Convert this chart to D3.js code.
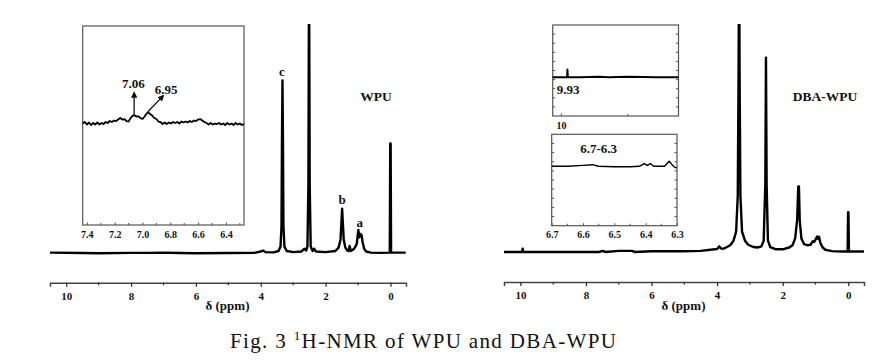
<!DOCTYPE html>
<html>
<head>
<meta charset="utf-8">
<script src="https://cdn.jsdelivr.net/npm/d3@7"></script>
<style>
  body { margin: 0; background: #fff; }
  svg text { font-family: "Liberation Serif", "Times New Roman", serif; fill: #111; }
  .bold { font-weight: bold; }
</style>
</head>
<body>
<div id="chart"></div>
<script>
// spectra: [shift (ppm), intensity]
var wpuSpectrum = [[10.5,0.3],[9.5,0.1],[9,0],[8,0.2],[7.5,0.2],[7,0.3],[6.5,0.1],[6,0],[5,0.1],[4.2,0.2],[4.0,0.8],[3.93,1.2],[3.85,0.5],[3.6,0.4],[3.45,1],[3.39,3],[3.36,12],[3.345,50],[3.33,76],[3.315,50],[3.30,12],[3.27,3],[3.2,1],[3.0,0.5],[2.75,0.8],[2.65,2],[2.6,1.2],[2.56,3],[2.53,30],[2.51,130],[2.49,30],[2.46,3],[2.40,1],[2.35,2],[2.3,0.8],[2.0,0.5],[1.7,1],[1.6,2.5],[1.54,6],[1.51,14],[1.49,19.6],[1.47,14],[1.44,6],[1.39,2.5],[1.33,1.2],[1.29,1],[1.26,3.2],[1.22,1],[1.12,2],[1.04,4],[0.99,10.3],[0.96,7],[0.93,8.5],[0.89,8],[0.86,5],[0.81,2],[0.75,0.8],[0.6,0.3],[0.3,0.2],[0.02,0.3],[0.006,48.3],[-0.006,48.3],[-0.02,0.3],[-0.47,0.3]];
var dbaSpectrum = [[10.5,0],[10.0,0],[9.95,0],[9.93,1.5],[9.91,0],[9,0],[7.6,0],[7.5,0.5],[7.4,0],[7,0.5],[6.6,0.5],[6.5,0],[6.0,0.3],[5,0.3],[4.5,0.5],[4.2,1],[4.0,1.3],[3.93,2.5],[3.88,1.5],[3.8,1.5],[3.7,2.2],[3.6,3],[3.5,5],[3.42,9],[3.37,25],[3.345,80],[3.33,140],[3.315,80],[3.29,25],[3.24,9],[3.15,5],[3.05,3.2],[2.9,2.2],[2.75,2],[2.65,2.5],[2.58,5],[2.53,30],[2.51,86],[2.49,30],[2.45,5],[2.38,2.2],[2.2,1.2],[2.0,1.2],[1.8,2],[1.7,3],[1.62,6],[1.56,14],[1.525,29],[1.505,29],[1.48,14],[1.43,6],[1.35,3.5],[1.25,3],[1.15,3.2],[1.08,4.8],[1.04,4.5],[1.0,5.5],[0.95,6.8],[0.92,5.8],[0.89,6.7],[0.85,4],[0.78,2],[0.7,1],[0.5,0.4],[0.2,0.2],[0.02,0.2],[0.006,17.6],[-0.006,17.6],[-0.02,0.2],[-0.48,0.2]];
var wpuInset = [[7.43,0],[7.415,0.15],[7.40,-0.1],[7.385,0.1],[7.37,-0.15],[7.355,0.05],[7.34,-0.1],[7.325,0.1],[7.31,-0.1],[7.295,0.05],[7.28,-0.05],[7.265,0.15],[7.25,0.05],[7.235,0.25],[7.22,0.15],[7.205,0.3],[7.19,0.25],[7.175,0.4],[7.16,0.55],[7.145,0.4],[7.13,0.45],[7.115,0.25],[7.10,0.2],[7.085,0.55],[7.07,0.8],[7.06,0.85],[7.045,0.7],[7.03,0.75],[7.015,0.55],[7.00,0.45],[6.985,0.7],[6.97,1.0],[6.96,1.15],[6.945,0.95],[6.93,0.8],[6.915,0.55],[6.90,0.45],[6.885,0.2],[6.87,0.15],[6.855,-0.05],[6.84,0.1],[6.825,-0.05],[6.81,0.1],[6.795,0],[6.78,0.15],[6.765,0.05],[6.75,0.15],[6.735,0],[6.72,0.2],[6.705,0.1],[6.69,0.2],[6.675,0.1],[6.66,0.25],[6.645,0.15],[6.63,0.3],[6.615,0.25],[6.60,0.4],[6.585,0.45],[6.57,0.3],[6.555,0.15],[6.54,0.05],[6.525,-0.1],[6.51,0.05],[6.495,-0.1],[6.48,0],[6.465,-0.05],[6.45,0.05],[6.435,-0.1],[6.42,0],[6.405,-0.15],[6.39,0.05],[6.375,-0.1],[6.36,0],[6.345,-0.15],[6.33,0.05],[6.315,-0.1],[6.30,0],[6.285,-0.15],[6.27,-0.05]];
var dbaInsetTop = [[10.086,0],[9.95,0],[9.935,0],[9.932,1.7],[9.928,0],[9.8,0],[9.6,0.1],[9.5,0],[9.3,0.1],[9.0,0],[8.77,0]];
var dbaInsetBottom = [[6.7,0],[6.65,0],[6.6,0.2],[6.57,0.35],[6.55,0],[6.5,-0.1],[6.45,-0.1],[6.42,0],[6.405,0.6],[6.395,0.2],[6.385,0.6],[6.375,0],[6.34,0],[6.325,1.1],[6.315,0.3],[6.305,-0.3],[6.3,-0.3]];

// labels
var wpuPeakLabels = [{t:"c", x:3.35, y:78}, {t:"b", x:1.49, y:21.8}, {t:"a", x:0.95, y:11.5}];
var wpuArrows = [{x1:7.06, y1:0.9, x2:7.06, y2:3.1}, {x1:6.96, y1:1.2, x2:6.85, y2:2.8}];
var wpuArrowLabels = [{t:"7.06", x:7.065, y:3.55}, {t:"6.95", x:6.83, y:2.95}];
var mainTicks = [10, 8, 6, 4, 2, 0];
var mainMinor = [9, 7, 5, 3, 1];
var wpuInsetTicks = [7.4, 7.2, 7.0, 6.8, 6.6, 6.4];
var dbaTopTicks = [10];
var dbaBottomTicks = [6.7, 6.6, 6.5, 6.4, 6.3];

var svg = d3.select("#chart").append("svg")
  .attr("width", 892)
  .attr("height", 362);

var defs = svg.append("defs");
defs.append("marker").attr("id", "arrow")
  .attr("viewBox", "0 0 10 10").attr("refX", 8).attr("refY", 5)
  .attr("markerWidth", 5).attr("markerHeight", 5).attr("orient", "auto")
  .append("path").attr("d", "M0,0 L10,5 L0,10 z").attr("fill", "#111");

var line = function(x, y) {
  return d3.line().x(d => x(d[0])).y(d => y(d[1]));
};

// draws one main spectrum panel
function panel(opts) {
  var x = d3.scaleLinear().domain([10.5, -0.48]).range([opts.left, opts.right]);
  var y = d3.scaleLinear().domain([0, 100]).range([opts.base, 26]);

  defs.append("clipPath").attr("id", opts.id)
    .append("rect").attr("x", opts.left - 2).attr("y", 24)
    .attr("width", opts.right - opts.left + 4).attr("height", 260);

  svg.append("path")
    .datum(opts.data)
    .attr("clip-path", `url(#${opts.id})`)
    .attr("d", line(x, y))
    .attr("fill", "none")
    .attr("stroke", "#000")
    .attr("stroke-width", 2.4)
    .attr("stroke-linejoin", "round");

  var axis = svg.append("g")
    .attr("transform", `translate(0, ${opts.axisY})`)
    .call(d3.axisBottom(x).tickValues(mainTicks).tickSize(4).tickFormat(d3.format("d")));
  axis.select(".domain").attr("stroke", "#444").attr("stroke-width", 1.5);
  axis.selectAll(".tick line").attr("stroke", "#222").attr("stroke-width", 1.2);
  axis.selectAll(".tick text").attr("class", "bold").attr("font-size", 11)
    .attr("font-family", "Liberation Serif").attr("dy", "0.95em").attr("fill", "#111");
  axis.selectAll(".minor").data(mainMinor).enter().append("line")
    .attr("x1", d => x(d)).attr("x2", d => x(d))
    .attr("y1", 0).attr("y2", 2.5)
    .attr("stroke", "#222").attr("stroke-width", 1.2);

  svg.append("text").attr("class", "bold")
    .attr("x", (x(10.5) + x(-0.48)) / 2 - 0.5).attr("y", 310)
    .attr("text-anchor", "middle").attr("font-size", 13)
    .text("δ (ppm)");

  svg.append("text").attr("class", "bold")
    .attr("x", opts.nameX).attr("y", 101)
    .attr("text-anchor", "middle").attr("font-size", 13.5)
    .text(opts.name);

  return {x: x, y: y};
}

// draws one inset box with its own scales
function inset(opts) {
  var x = d3.scaleLinear().domain(opts.xDomain).range([opts.x0, opts.x1]);
  var y = d3.scaleLinear().domain(opts.yDomain).range([opts.y1, opts.y0]);

  svg.append("rect")
    .attr("x", opts.x0).attr("y", opts.y0)
    .attr("width", opts.x1 - opts.x0).attr("height", opts.y1 - opts.y0)
    .attr("fill", "#fff").attr("stroke", "#555").attr("stroke-width", 1.2);

  if (opts.sideTicks) {
    var ys = d3.scaleLinear().domain([0, 1]).range([opts.y1, opts.y0]);
    var ticks = d3.range(1, opts.sideTicks).map(i => i / opts.sideTicks);
    [opts.x0, opts.x1].forEach(function(sx, k) {
      svg.selectAll(null).data(ticks).enter().append("line")
        .attr("x1", sx).attr("x2", k === 0 ? sx + 2.5 : sx - 2.5)
        .attr("y1", d => ys(d)).attr("y2", d => ys(d))
        .attr("stroke", "#555").attr("stroke-width", 1);
    });
  }

  var ax = svg.append("g")
    .attr("transform", `translate(0, ${opts.y1})`)
    .call(d3.axisBottom(x).tickValues(opts.ticks).tickSize(-2.5).tickFormat(opts.fmt));
  ax.select(".domain").remove();
  ax.selectAll(".tick line").attr("stroke", "#555");
  ax.selectAll(".tick text").attr("class", "bold").attr("font-size", 10)
    .attr("font-family", "Liberation Serif").attr("dy", "0.75em")
    .attr("transform", "translate(0, 2)").attr("fill", "#111");
  if (opts.minor) {
    ax.selectAll(".mn").data(opts.minor).enter().append("line")
      .attr("x1", d => x(d)).attr("x2", d => x(d))
      .attr("y1", 0).attr("y2", -2).attr("stroke", "#555");
  }

  svg.append("path")
    .datum(opts.data)
    .attr("d", line(x, y))
    .attr("fill", "none")
    .attr("stroke", "#000")
    .attr("stroke-width", opts.sw || 2)
    .attr("stroke-linejoin", "round");

  return {x: x, y: y};
}

// ---- WPU ----
var p1 = panel({id: "c1", data: wpuSpectrum, left: 50, right: 406, base: 253.3, axisY: 282.7, name: "WPU", nameX: 376});

wpuPeakLabels.forEach(function(d) {
  svg.append("text").attr("class", "bold")
    .attr("x", p1.x(d.x)).attr("y", p1.y(d.y))
    .attr("text-anchor", "middle").attr("font-size", 13)
    .text(d.t);
});

var in1 = inset({
  x0: 82.7, x1: 244, y0: 26, y1: 225,
  xDomain: [7.43, 6.27], yDomain: [-10.2, 9.8],
  ticks: wpuInsetTicks, fmt: d3.format(".1f"),
  minor: [7.3, 7.1, 6.9, 6.7, 6.5, 6.3],
  data: wpuInset, sw: 1.8
});

wpuArrows.forEach(function(d) {
  svg.append("line")
    .attr("x1", in1.x(d.x1)).attr("y1", in1.y(d.y1))
    .attr("x2", in1.x(d.x2)).attr("y2", in1.y(d.y2))
    .attr("stroke", "#111").attr("stroke-width", 1.3)
    .attr("marker-end", "url(#arrow)");
});
wpuArrowLabels.forEach(function(d) {
  svg.append("text").attr("class", "bold")
    .attr("x", in1.x(d.x)).attr("y", in1.y(d.y))
    .attr("text-anchor", "middle").attr("font-size", 13)
    .text(d.t);
});

// ---- DBA-WPU ----
var p2 = panel({id: "c2", data: dbaSpectrum, left: 504, right: 864, base: 252, axisY: 282, name: "DBA-WPU", nameX: 825});

var in2 = inset({
  x0: 552.7, x1: 678.5, y0: 25, y1: 116,
  xDomain: [10.086, 8.77], yDomain: [-8.5, 11.5],
  ticks: dbaTopTicks, fmt: d3.format("d"), minor: [9.3],
  sideTicks: 10, data: dbaInsetTop, sw: 2
});
svg.append("text").attr("class", "bold")
  .attr("x", in2.x(9.93) + 0.5).attr("y", in2.y(-3.6))
  .attr("text-anchor", "middle").attr("font-size", 13)
  .text("9.93");

var in3 = inset({
  x0: 551.7, x1: 677, y0: 134.3, y1: 225.7,
  xDomain: [6.7, 6.3], yDomain: [-13, 7],
  ticks: dbaBottomTicks, fmt: d3.format(".1f"),
  minor: [6.65, 6.55, 6.45, 6.35],
  sideTicks: 10, data: dbaInsetBottom, sw: 1.4
});
svg.append("text").attr("class", "bold")
  .attr("x", in3.x(6.55)).attr("y", in3.y(2.8))
  .attr("text-anchor", "middle").attr("font-size", 13)
  .text("6.7-6.3");

// ---- caption ----
var cap = svg.append("text")
  .attr("x", 230).attr("y", 347.5)
  .attr("font-size", 21)
  .attr("textLength", 386).attr("lengthAdjust", "spacing");
cap.append("tspan").text("Fig. 3 ");
cap.append("tspan").attr("font-size", 13).attr("dy", -7.5).text("1");
cap.append("tspan").attr("dy", 7.5).text("H-NMR of WPU and DBA-WPU");
</script>
</body>
</html>
